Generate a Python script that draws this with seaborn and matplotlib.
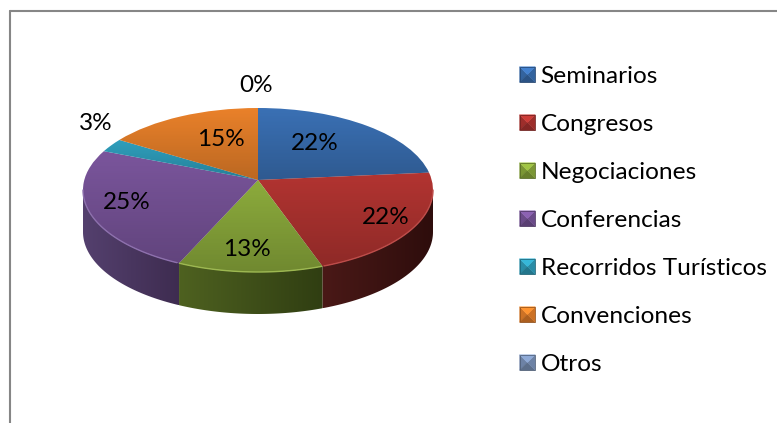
import numpy as np
import seaborn as sns
import matplotlib.pyplot as plt
from matplotlib.colors import to_rgb
from matplotlib.legend_handler import HandlerBase
from matplotlib.patches import Patch, PathPatch, Polygon
from matplotlib.path import Path
from matplotlib.lines import Line2D

categories = ['Seminarios', 'Congresos', 'Negociaciones', 'Conferencias',
              'Recorridos Turísticos', 'Convenciones', 'Otros']
shares = [21.6, 22.4, 13.45, 25.4, 2.6, 14.55, 0.0]
colors = ['#3a70b4', '#b23431', '#8cab3c', '#7a559c', '#2f9fbd', '#e9812a', '#7c94bb']
wall_left = ['#1f3c60', '#4a1917', '#4e6120', '#54406e', '#1c5f70', '#8a4c18', '#4a5970']
wall_right = ['#1f3c60', '#2e0d0c', '#303e12', '#3e2c50', '#1c5f70', '#8a4c18', '#4a5970']
label_xy = [(315, 143), (386, 217), (247, 249), (127, 202), (96, 123), (221, 139), (256, 86)]

W, H = 777, 423
CX, CY, RX, RY = 258, 190, 175, 82
APEX_Y = (CY - 180) / RY
DEPTH = 42 / RY
LOW = -1 - DEPTH - 0.05

sns.set_theme(style='white')
plt.rcParams['font.family'] = ['Lato', 'DejaVu Sans']
palette = sns.color_palette(colors)

fig = plt.figure(figsize=(W / 100, H / 100), dpi=100)
# axes run below the rim so the side wall is not clipped
bottom_px = CY + RY * -LOW
ax = fig.add_axes([(CX - RX) / W, (H - bottom_px) / H, 2 * RX / W, (bottom_px - CY + RY) / H])

wedges, _, pcts = ax.pie(shares, colors=palette, startangle=90, counterclock=False,
                         autopct='%.0f%%', textprops=dict(fontsize=17.5, color='#000000'))
ax.set_aspect('auto')


def shade(path, a0, a1, zorder=3):
    # dark gradient overlay clipped to the path
    box = path.get_extents()
    img = np.zeros((64, 1, 4))
    img[:, 0, 3] = np.linspace(a0, a1, 64)
    im = ax.imshow(img, extent=(box.x0, box.x1, box.y0, box.y1), aspect='auto',
                   origin='upper', zorder=zorder, interpolation='bilinear')
    im.set_clip_path(path, ax.transData)


# side wall, only the front half of the rim shows
start = 90.0
for i, share in enumerate(shares):
    end = start - share * 3.6
    lo, hi = max(end, -180), min(start, 0)
    if hi > lo:
        t = np.radians(np.linspace(lo, hi, 60))
        xs, ys = np.cos(t), np.sin(t)
        verts = np.r_[np.c_[xs, ys], np.c_[xs, ys - DEPTH][::-1]]
        wall = Path(np.r_[verts, verts[:1]])
        img = np.zeros((1, 64, 3))
        mix = np.linspace(0, 1, 64)[:, None]
        img[0] = (1 - mix) * np.array(to_rgb(wall_left[i])) + mix * np.array(to_rgb(wall_right[i]))
        im = ax.imshow(img, extent=(xs.min(), xs.max(), verts[:, 1].min(), verts[:, 1].max()),
                       aspect='auto', zorder=1.5, interpolation='bilinear')
        im.set_clip_path(wall, ax.transData)
    start = end

# top face with the apex pulled back, as in the tilted view
for w, c in zip(wedges, palette):
    w.set_visible(False)
    if w.theta2 - w.theta1 < 0.01:
        continue
    p = w.get_path()
    v = p.vertices.copy()
    near = np.hypot(v[:, 0], v[:, 1]) < 1e-6
    v[near, 1] = APEX_Y
    path = Path(v, p.codes)
    ax.add_patch(PathPatch(path, fc=c, ec='none', zorder=2, clip_on=False))
    shade(path, 0.0, 0.2)

# lit edge along the front rim
t = np.radians(np.linspace(180, 360, 200))
for x0, x1, col in [(-1, -0.45, '#8d70ad'), (-0.45, 0.37, '#9db851'), (0.37, 1, '#bd4c49')]:
    m = (np.cos(t) >= x0) & (np.cos(t) <= x1)
    ax.plot(np.cos(t[m]), np.sin(t[m]), color=col, lw=1.0, zorder=4, clip_on=False)

ax.set_xlim(-1, 1)
ax.set_ylim(LOW, 1)
ax.axis('off')

for txt, (px, py) in zip(pcts, label_xy):
    txt.set_transform(fig.transFigure)
    txt.set_position((px / W, 1 - py / H))
    txt.set_ha('center')
    txt.set_va('center')
    txt.set_zorder(6)
    txt.set_clip_on(False)


class BevelHandler(HandlerBase):
    # small bevelled square used by the legend keys
    def create_artists(self, legend, orig, xd, yd, width, height, fontsize, trans):
        c = np.array(orig.get_facecolor()[:3])
        s = 15.5 * 72 / 100
        x, y = (width - s) / 2 - xd, (height - s) / 2 - yd
        a, b, m = (x, y), (x + s, y + s), (x + s / 2, y + s / 2)
        tl, br = (x, y + s), (x + s, y)
        tri = [((a, tl, m), 0.88), ((br, a, m), 0.74), ((b, br, m), 0.88), ((tl, b, m), 1.15)]
        out = []
        for pts, f in tri:
            col = np.clip(c * f, 0, 1)
            out.append(Polygon(pts, closed=True, fc=col, ec=col, lw=0.3, transform=trans))
        out.append(Polygon([a, tl, b, br], closed=True, fc='none', ec=c * 0.6, lw=0.5, transform=trans))
        return out


handles = [Patch(facecolor=c, label=n) for c, n in zip(palette, categories)]
fig.legend(handles=handles, handler_map={Patch: BevelHandler()}, loc='upper left',
           bbox_to_anchor=(517 / W, 1 - 66 / H), frameon=False, fontsize=17.6, labelcolor='black',
           labelspacing=1.1, handlelength=0.85, handletextpad=0.12, borderpad=0, borderaxespad=0)

# chart border, cropped on the right and the bottom
frame = dict(color='#868686', lw=1.5, transform=fig.transFigure)
fig.add_artist(Line2D([10 / W, 1], [1 - 11.5 / H, 1 - 11.5 / H], **frame))
fig.add_artist(Line2D([10 / W, 10 / W], [0, 1 - 11.5 / H], **frame))

fig.savefig('out.png', dpi=100)
